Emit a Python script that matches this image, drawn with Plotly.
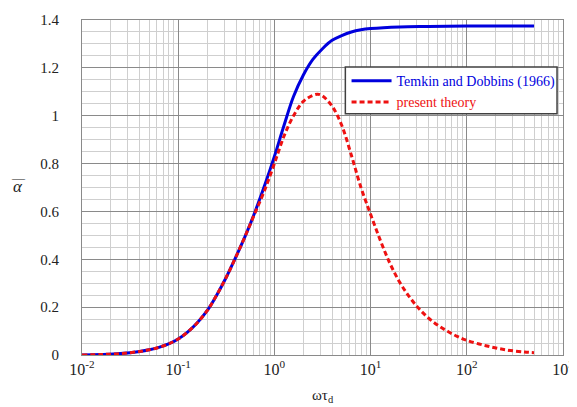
import plotly.graph_objects as go

# Temkin and Dobbins (1966)
temkin_x = [0.01, 0.0158, 0.0251, 0.0398, 0.0501, 0.0631, 0.0794, 0.1, 0.126, 0.158, 0.2,
            0.251, 0.316, 0.398, 0.501, 0.631, 0.794, 1.0, 1.26, 1.58, 2.0, 2.51, 3.16,
            3.98, 5.01, 6.31, 7.94, 10, 20, 40, 100, 500]
temkin_y = [0.0, 0.002, 0.006, 0.015, 0.022, 0.032, 0.046, 0.067, 0.097, 0.135, 0.185,
            0.25, 0.325, 0.41, 0.50, 0.60, 0.71, 0.83, 0.96, 1.08, 1.17, 1.235, 1.28,
            1.315, 1.335, 1.35, 1.359, 1.364, 1.371, 1.373, 1.375, 1.375]

# present theory
present_x = [0.01, 0.0158, 0.0251, 0.0398, 0.0501, 0.0631, 0.0794, 0.1, 0.126, 0.158, 0.2,
             0.251, 0.316, 0.398, 0.501, 0.631, 0.794, 1.0, 1.26, 1.58, 2.0, 2.51, 2.82,
             3.16, 3.98, 5.01, 6.31, 7.94, 10, 12.6, 15.8, 20, 25.1, 31.6, 39.8, 50.1,
             63.1, 79.4, 100, 158, 251, 398, 500]
present_y = [0.0, 0.002, 0.006, 0.015, 0.022, 0.032, 0.046, 0.067, 0.097, 0.135, 0.185,
             0.25, 0.325, 0.41, 0.50, 0.595, 0.69, 0.80, 0.915, 1.0, 1.06, 1.085, 1.09,
             1.083, 1.04, 0.96, 0.835, 0.70, 0.588, 0.48, 0.385, 0.305, 0.245, 0.195,
             0.155, 0.124, 0.099, 0.078, 0.061, 0.039, 0.022, 0.0125, 0.0096]

x_tickvals = [0.01, 0.1, 1, 10, 100, 1000]
x_ticktext = ["10<sup>-2</sup>", "10<sup>-1</sup>", "10<sup>0</sup>",
              "10<sup>1</sup>", "10<sup>2</sup>", "10<sup>3</sup>"]
y_tickvals = [0, 0.2, 0.4, 0.6, 0.8, 1.0, 1.2, 1.4]
y_ticktext = ["0", "0.2", "0.4", "0.6", "0.8", "1", "1.2", "1.4"]

serif = "Times New Roman"
blue = "#0000dd"
red = "#ee1111"

fig = go.Figure()
fig.add_trace(go.Scatter(
    x=temkin_x, y=temkin_y, mode="lines",
    name="<span style='color:%s'>Temkin and Dobbins (1966)</span>" % blue,
    line=dict(color=blue, width=3, shape="spline", smoothing=1.0),
))
fig.add_trace(go.Scatter(
    x=present_x, y=present_y, mode="lines",
    name="<span style='color:%s'>present theory</span>" % red,
    line=dict(color=red, width=3, dash="5px,3px", shape="spline", smoothing=1.0),
))

# the page body has an 8px margin: the figure starts at (8, 8) in the window,
# so the margins are reduced on the left/top and enlarged on the right/bottom
fig.update_layout(
    width=577, height=407,
    margin=dict(l=74, r=19, t=11, b=60),
    paper_bgcolor="white", plot_bgcolor="white",
    font=dict(family=serif, color="#222222", size=15),
    showlegend=True,
    legend=dict(
        x=0.550, y=0.865, xanchor="left", yanchor="top",
        bgcolor="rgba(0,0,0,0)", borderwidth=0,
        font=dict(family=serif, size=14),
        tracegroupgap=4, itemwidth=40,
    ),
    xaxis=dict(
        type="log", range=[-2, 3], automargin=True,
        tickvals=x_tickvals, ticktext=x_ticktext,
        tickfont=dict(family=serif, size=16), ticklabeloverflow="allow",
        showgrid=True, gridcolor="#8a8a8a", gridwidth=1,
        minor=dict(showgrid=True, gridcolor="#cfcfcf", gridwidth=1, dtick="D1", ticks=""),
        showline=True, linecolor="#8a8a8a", mirror=True,
        ticks="", zeroline=False,
    ),
    yaxis=dict(
        range=[0, 1.4], automargin=False,
        tickvals=y_tickvals, ticktext=y_ticktext,
        tickfont=dict(family=serif, size=15),
        showgrid=True, gridcolor="#8a8a8a", gridwidth=1,
        minor=dict(showgrid=True, gridcolor="#cfcfcf", gridwidth=1, dtick=0.05, ticks=""),
        showline=True, linecolor="#8a8a8a", mirror=True,
        ticks="", zeroline=False, ticklabelstandoff=19,
    ),
)

# legend frame
fig.add_shape(type="rect", xref="paper", yref="paper",
              x0=0.5475, x1=0.9876, y0=0.720, y1=0.860,
              fillcolor="white", line=dict(color="#404040", width=1.5), layer="above")

# y-axis symbol: alpha with an overbar
fig.add_annotation(
    xref="paper", yref="paper", x=-0.134, y=0.502,
    text="α", showarrow=False,
    font=dict(family=serif, size=17, color="#222222", style="italic"),
    xanchor="center", yanchor="middle",
)
fig.add_annotation(
    xref="paper", yref="paper", x=-0.133, y=0.530,
    text="—", showarrow=False,
    font=dict(family=serif, size=13, color="#222222"),
    xanchor="center", yanchor="middle",
)
fig.add_annotation(
    xref="paper", yref="paper", x=0.50, y=-0.122,
    text="ωτ<sub>d</sub>", showarrow=False, font=dict(family=serif, size=15, color="#222222"),
    xanchor="center", yanchor="middle",
)

fig.write_html("out.html")
